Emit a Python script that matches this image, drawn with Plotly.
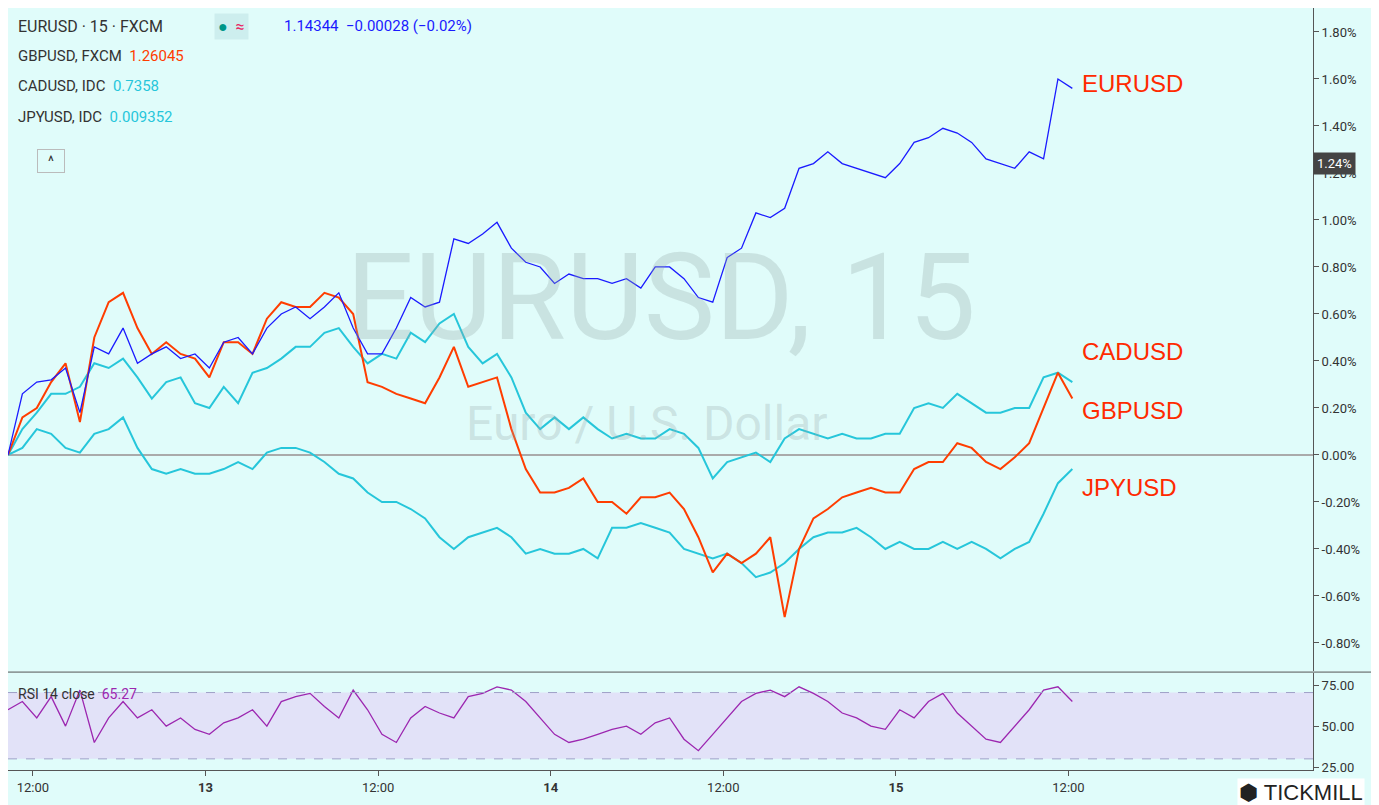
import pandas as pd
import plotly.graph_objects as go

# hourly samples, 12th 10:16 -> 15th 12:16
times = pd.date_range("2021-07-12 10:16", periods=75, freq="h")

eurusd = [0.0, 0.26, 0.31, 0.32, 0.37, 0.18, 0.46, 0.43, 0.54, 0.39, 0.43, 0.46, 0.41, 0.43, 0.37,
          0.48, 0.50, 0.43, 0.54, 0.60, 0.63, 0.58, 0.63, 0.69, 0.54, 0.43, 0.43, 0.54, 0.67, 0.63,
          0.65, 0.92, 0.90, 0.94, 0.99, 0.88, 0.82, 0.80, 0.73, 0.77, 0.75, 0.75, 0.73, 0.75, 0.71,
          0.80, 0.80, 0.75, 0.67, 0.65, 0.84, 0.88, 1.03, 1.01, 1.05, 1.22, 1.24, 1.29, 1.24, 1.22,
          1.20, 1.18, 1.24, 1.33, 1.35, 1.39, 1.37, 1.33, 1.26, 1.24, 1.22, 1.29, 1.26, 1.60, 1.56]
gbpusd = [0.0, 0.16, 0.20, 0.31, 0.39, 0.14, 0.50, 0.65, 0.69, 0.54, 0.43, 0.48, 0.43, 0.41, 0.33,
          0.48, 0.48, 0.43, 0.58, 0.65, 0.63, 0.63, 0.69, 0.67, 0.60, 0.31, 0.29, 0.26, 0.24, 0.22,
          0.33, 0.46, 0.29, 0.31, 0.33, 0.11, -0.06, -0.16, -0.16, -0.14, -0.10, -0.20, -0.20, -0.25, -0.18,
          -0.18, -0.16, -0.23, -0.35, -0.50, -0.42, -0.46, -0.42, -0.35, -0.69, -0.40, -0.27, -0.23, -0.18, -0.16,
          -0.14, -0.16, -0.16, -0.06, -0.03, -0.03, 0.05, 0.03, -0.03, -0.06, -0.01, 0.05, 0.20, 0.35, 0.24]
cadusd = [0.0, 0.11, 0.18, 0.26, 0.26, 0.29, 0.39, 0.37, 0.41, 0.33, 0.24, 0.31, 0.33, 0.22, 0.20,
          0.29, 0.22, 0.35, 0.37, 0.41, 0.46, 0.46, 0.52, 0.54, 0.46, 0.39, 0.43, 0.41, 0.52, 0.48,
          0.56, 0.60, 0.46, 0.39, 0.43, 0.33, 0.18, 0.11, 0.16, 0.11, 0.16, 0.11, 0.07, 0.09, 0.07,
          0.07, 0.11, 0.09, 0.03, -0.10, -0.03, -0.01, 0.01, -0.03, 0.07, 0.11, 0.09, 0.07, 0.09, 0.07,
          0.07, 0.09, 0.09, 0.20, 0.22, 0.20, 0.26, 0.22, 0.18, 0.18, 0.20, 0.20, 0.33, 0.35, 0.31]
jpyusd = [0.0, 0.03, 0.11, 0.09, 0.03, 0.01, 0.09, 0.11, 0.16, 0.03, -0.06, -0.08, -0.06, -0.08, -0.08,
          -0.06, -0.03, -0.06, 0.01, 0.03, 0.03, 0.01, -0.03, -0.08, -0.10, -0.16, -0.20, -0.20, -0.23, -0.27,
          -0.35, -0.40, -0.35, -0.33, -0.31, -0.35, -0.42, -0.40, -0.42, -0.42, -0.40, -0.44, -0.31, -0.31, -0.29,
          -0.31, -0.33, -0.40, -0.42, -0.44, -0.42, -0.46, -0.52, -0.50, -0.46, -0.40, -0.35, -0.33, -0.33, -0.31,
          -0.35, -0.40, -0.37, -0.40, -0.40, -0.37, -0.40, -0.37, -0.40, -0.44, -0.40, -0.37, -0.25, -0.12, -0.06]
rsi = [60, 65, 55, 68, 50, 72, 40, 55, 65, 55, 60, 50, 55, 48, 45,
       52, 55, 60, 50, 65, 68, 70, 62, 55, 72, 60, 45, 40, 55, 62,
       58, 55, 68, 70, 74, 72, 65, 55, 45, 40, 42, 45, 48, 50, 45,
       52, 55, 42, 35, 45, 55, 65, 70, 72, 68, 74, 70, 65, 58, 55,
       50, 48, 60, 55, 65, 70, 58, 50, 42, 40, 50, 60, 72, 74, 65]

tick_vals = pd.to_datetime(["2021-07-12 12:00", "2021-07-13 00:00", "2021-07-13 12:00", "2021-07-14 00:00",
                            "2021-07-14 12:00", "2021-07-15 00:00", "2021-07-15 12:00"])
tick_text = ["12:00", "<b>13</b>", "12:00", "<b>14</b>", "12:00", "<b>15</b>", "12:00"]
pct_vals = [round(-0.8 + 0.2 * i, 1) for i in range(14)]
pct_text = [f"{v:.2f}%" for v in pct_vals]

fig = go.Figure()
fig.add_trace(go.Scatter(x=times, y=jpyusd, line=dict(color="#26c6da", width=2), yaxis="y"))
fig.add_trace(go.Scatter(x=times, y=cadusd, line=dict(color="#26c6da", width=2), yaxis="y"))
fig.add_trace(go.Scatter(x=times, y=gbpusd, line=dict(color="#ff3d00", width=2), yaxis="y"))
fig.add_trace(go.Scatter(x=times, y=eurusd, line=dict(color="#1a1aff", width=1.3), yaxis="y"))
fig.add_trace(go.Scatter(x=times, y=rsi, line=dict(color="#9c27b0", width=1.3), yaxis="y2"))

bg = "#e0fcfa"
fig.update_layout(
    width=1379, height=805, showlegend=False,
    margin=dict(l=0, r=74, t=0, b=43, pad=0),
    paper_bgcolor=bg, plot_bgcolor=bg,
    font=dict(family="Roboto", color="#333"),
    xaxis=dict(anchor="y2", range=["2021-07-12 10:16", "2021-07-16 05:00"], tickvals=tick_vals,
               ticktext=tick_text, showgrid=False, showline=True, linecolor="#555", ticks="outside",
               tickcolor="#555", tickfont=dict(size=13), automargin=False),
    yaxis=dict(domain=[0.13, 1], range=[-0.919, 1.902], side="right", tickvals=pct_vals, ticktext=pct_text,
               showgrid=False, zeroline=True, zerolinecolor="#aaa", automargin=False,
               showline=True, linecolor="#555", ticks="outside", tickcolor="#555", tickfont=dict(size=13)),
    yaxis2=dict(domain=[0, 0.127], range=[23.2, 82.3], side="right", tickvals=[25, 50, 75],
                ticktext=["25.00", "50.00", "75.00"], automargin=False,
                showgrid=False, zeroline=False, showline=True, linecolor="#555", ticks="outside",
                tickcolor="#555", tickfont=dict(size=13)),
)

# RSI band and divider
fig.add_shape(type="rect", xref="x domain", yref="y2", x0=0, x1=1, y0=30, y1=70.5,
              fillcolor="#e2e2f8", line_width=0, layer="below")
for lvl in (30, 70.5):
    fig.add_shape(type="line", xref="x domain", yref="y2", x0=0, x1=1, y0=lvl, y1=lvl,
                  line=dict(color="#a0a0c8", width=1, dash="dash"))
fig.add_shape(type="line", xref="paper", yref="paper", x0=0, x1=1.06, y0=0.1285, y1=0.1285,
              line=dict(color="#555", width=1))

# watermark
fig.add_annotation(text="EURUSD, 15", xref="paper", yref="paper", x=0.5, y=0.62, showarrow=False,
                   yanchor="middle", font=dict(size=120, color="rgba(150,170,170,0.3)"))
fig.add_annotation(text="Euro / U.S. Dollar", xref="paper", yref="paper", x=0.49, y=0.455, showarrow=False,
                   yanchor="middle", font=dict(size=48, color="rgba(150,170,170,0.3)"))

# series labels
for txt, yv in [("EURUSD", 1.58), ("CADUSD", 0.44), ("GBPUSD", 0.19), ("JPYUSD", -0.14)]:
    fig.add_annotation(text=txt, x=pd.Timestamp("2021-07-15 12:50"), y=yv, yref="y", xanchor="left",
                       showarrow=False, font=dict(size=24, color="#ff2a00", family="Liberation Sans"))

# header legend
fig.add_annotation(text="EURUSD · 15 · FXCM", xref="paper", yref="paper", x=0.006, y=0.976,
                   xanchor="left", yanchor="middle", showarrow=False, font=dict(size=16, color="#333"))
fig.add_annotation(text="<span style='color:#009688'>●</span>  <span style='color:#e91e63'>≈</span>",
                   xref="paper", yref="paper", x=0.158, y=0.976, xanchor="left", yanchor="middle",
                   showarrow=False, bgcolor="#cdeeee", borderpad=3, font=dict(size=16))
fig.add_annotation(text="1.14344  −0.00028 (−0.02%)", xref="paper", yref="paper", x=0.21, y=0.976,
                   xanchor="left", yanchor="middle", showarrow=False, font=dict(size=15, color="#1a1aff"))
for i, (name, val, col) in enumerate([("GBPUSD, FXCM", "1.26045", "#ff3d00"),
                                      ("CADUSD, IDC", "0.7358", "#26c6da"),
                                      ("JPYUSD, IDC", "0.009352", "#26c6da")]):
    fig.add_annotation(text=f"{name}  <span style='color:{col}'>{val}</span>", xref="paper", yref="paper",
                       x=0.006, y=0.937 - 0.0398 * i, xanchor="left", yanchor="middle", showarrow=False,
                       font=dict(size=15, color="#333"))
fig.add_annotation(text="  ^  ", xref="paper", yref="paper", x=0.022, y=0.815, showarrow=False,
                   bordercolor="#bbb", borderwidth=1, borderpad=3, bgcolor=bg, font=dict(size=14))
fig.add_annotation(text="RSI 14 close  <span style='color:#9c27b0'>65.27</span>", xref="paper", yref="paper",
                   x=0.006, y=0.1, xanchor="left", yanchor="middle", showarrow=False,
                   font=dict(size=14, color="#333"))

# price tag
fig.add_annotation(text="1.24%", x=1.0, xref="paper", y=1.24, yref="y", xanchor="left", showarrow=False,
                   bgcolor="#444", font=dict(size=13, color="white"), borderpad=3)
# logo
fig.add_annotation(text="⬢ TICKMILL", xref="paper", yref="paper", x=1.04, y=-0.03, xanchor="right",
                   yanchor="middle", showarrow=False, bgcolor="white",
                   font=dict(size=22, color="#222", family="Liberation Sans"))

fig.write_html("out.html")
